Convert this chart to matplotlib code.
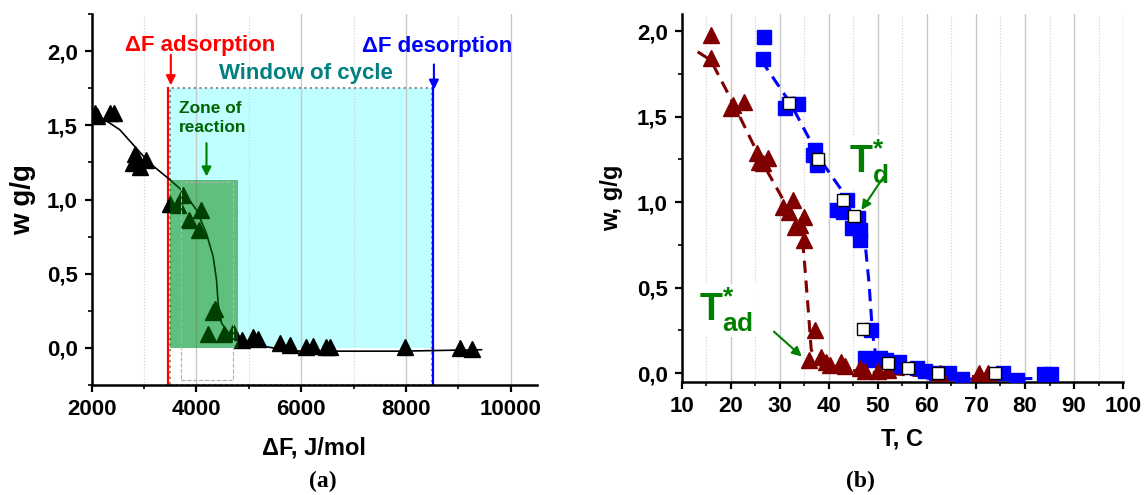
"""Two-panel figure: adsorption window vs. free energy (a) and sorption isobars (b)."""

import matplotlib.pyplot as plt
from matplotlib.patches import Rectangle
from matplotlib.ticker import MultipleLocator

plt.rcParams.update({
    "font.family": ["Liberation Sans", "DejaVu Sans"],
    "font.weight": "bold",
    "axes.labelweight": "bold",
    "mathtext.fontset": "custom",
    "mathtext.rm": "Liberation Sans:bold",
    "mathtext.bf": "Liberation Sans:bold",
    "mathtext.it": "Liberation Sans:bold",
    "axes.linewidth": 1.8,
})

# ---- panel (a): uptake vs. free energy ----
dF_pts = [2070, 2110, 2354, 2422, 2797, 2831, 2865, 2933, 3035,
          3498, 3648, 3750, 3852, 4056, 4090, 4315, 4363,
          4227, 4533, 4703, 4873, 5078, 5180, 5588, 5793,
          6099, 6222, 6473, 6541, 7972, 9027, 9265]
w_pts = [1.58, 1.56, 1.584, 1.58, 1.243, 1.31, 1.276, 1.22, 1.265,
         0.969, 0.962, 1.029, 0.861, 0.793, 0.928, 0.243, 0.265,
         0.097, 0.097, 0.108, 0.052, 0.074, 0.063, 0.034, 0.018,
         0.007, 0.011, 0.007, 0.007, 0.007, 0.0, -0.004]

dF_fit = [2220, 2540, 2970, 3110, 3460, 3750, 4000, 4190, 4320, 4385,
          4415, 4480, 4640, 4890, 5470, 5980, 7880, 9440]
w_fit = [1.545, 1.47, 1.30, 1.245, 1.144, 1.054, 0.931, 0.774, 0.616, 0.459,
         0.302, 0.168, 0.089, 0.033, 0.0, -0.022, -0.022, -0.012]

dF_ads, dF_des = 3500, 8500
window_top = 1.75
zone_right, zone_top = 4800, 1.13

dF_ticks = [2000, 4000, 6000, 8000, 10000]
w_ticks = [0.0, 0.5, 1.0, 1.5, 2.0]
w_ticklabels = ["0,0", "0,5", "1,0", "1,5", "2,0"]

# ---- panel (b): uptake vs. temperature ----
T_des = [26.77, 26.54, 31.10, 31.86, 33.75, 36.79, 37.55, 37.17, 41.72, 43.62,
         42.86, 45.90, 44.76, 46.28, 46.28, 48.55, 47.41, 48.93, 50.45, 51.59,
         54.24, 53.48, 58.04, 59.56, 61.83, 64.49, 67.2, 75.5, 78.4, 83.8, 85.4]
w_des = [1.963, 1.834, 1.548, 1.574, 1.574, 1.276, 1.217, 1.305, 0.954, 1.013,
         0.945, 0.906, 0.847, 0.837, 0.779, 0.253, 0.088, 0.078, 0.088, 0.078,
         0.068, 0.039, 0.029, 0.010, 0.0, 0.0, -0.035, 0.0, -0.04, -0.005, -0.005]

T_open = [31.86, 37.78, 42.86, 45.14, 47.03, 51.97, 56.14, 62.21, 73.97]
w_open = [1.577, 1.250, 1.013, 0.919, 0.257, 0.058, 0.029, 0.0, 0.0]

T_des_fit = [26.2, 32.2, 38.3, 45.9, 47.4, 48.2, 48.9, 49.7, 53.5, 60.3, 70.0, 86.0]
w_des_fit = [1.83, 1.577, 1.246, 0.935, 0.76, 0.526, 0.234, 0.078, 0.02, -0.03, -0.035, -0.03]

T_ads = [15.92, 15.92, 20.09, 20.47, 22.75, 25.41, 25.79, 27.68, 26.54, 30.72,
         32.62, 31.86, 33.00, 34.89, 34.89, 34.13, 37.17, 36.03, 38.31, 39.45,
         40.21, 42.48, 43.24, 46.28, 47.41, 50.07, 51.97, 62.59, 70.56, 72.46]
w_ads = [1.977, 1.840, 1.548, 1.568, 1.587, 1.285, 1.237, 1.256, 1.227, 0.974,
         1.013, 0.945, 0.857, 0.915, 0.779, 0.867, 0.253, 0.078, 0.097, 0.068,
         0.049, 0.068, 0.039, 0.029, 0.010, 0.010, 0.019, 0.0, 0.0, 0.0]

T_ads_fit = [13.26, 15.92, 20.85, 26.16, 30.72, 34.51, 34.89, 35.65, 36.41,
             38.31, 45.90, 61.07, 73.97]
w_ads_fit = [1.879, 1.83, 1.558, 1.246, 1.013, 0.798, 0.701, 0.428, 0.136,
             0.058, 0.01, -0.02, -0.02]

T_ticks = [10, 20, 30, 40, 50, 60, 70, 80, 90, 100]

GREEN = "#008000"


def style_axes(ax):
    for side in ("top", "right"):
        ax.spines[side].set_visible(False)
    ax.tick_params(which="major", direction="out", length=5, width=1.6, labelsize=16, pad=5)
    ax.tick_params(which="minor", direction="out", length=3, width=1.2)
    ax.set_yticks(w_ticks, w_ticklabels)
    ax.yaxis.set_minor_locator(MultipleLocator(0.25))
    ax.grid(axis="x", which="major", color="#c8c8c8", lw=1.0)
    ax.grid(axis="x", which="minor", color="#d0d0d0", lw=0.8, ls=":")


fig = plt.figure(figsize=(11.44, 4.95), dpi=100)

# ---------------- (a) ----------------
ax = fig.add_axes([0.080, 0.2222, 0.3894, 0.7495])
style_axes(ax)
ax.set_xlim(2000, 10500)
ax.set_ylim(-0.25, 2.25)
ax.set_xticks(dF_ticks, [str(t) for t in dF_ticks])
ax.xaxis.set_minor_locator(MultipleLocator(1000))

ax.add_patch(Rectangle((dF_ads, 0), dF_des - dF_ads, window_top,
                       facecolor="#bfffff", edgecolor="none", zorder=1))
ax.add_patch(Rectangle((dF_ads, -0.25), dF_des - dF_ads, window_top + 0.25,
                       facecolor="none", edgecolor="#8a8a8a", lw=1.5, ls=":", zorder=1.6))
ax.plot([dF_ads - 40, dF_ads - 40], [-0.25, window_top], color="red", lw=1.6, zorder=2)
ax.plot([dF_des + 10, dF_des + 10], [-0.25, window_top], color="blue", lw=1.6, zorder=2)

ax.plot(dF_fit, w_fit, color="black", lw=1.2, zorder=2.5)
ax.plot(dF_pts, w_pts, ls="none", marker="^", ms=11, color="black", zorder=3)

ax.add_patch(Rectangle((dF_ads, 0), zone_right - dF_ads, zone_top,
                       facecolor=GREEN, alpha=0.5, edgecolor="none", zorder=4))
ax.add_patch(Rectangle((3700, -0.215), 1000, 1.335,
                       facecolor="none", edgecolor="#b0b0b0", lw=0.8, ls="--", zorder=4))

ax.text(4067, 2.04, "ΔF adsorption", color="red", fontsize=16, ha="center", va="center")
ax.text(8600, 2.03, "ΔF desorption", color="blue", fontsize=16, ha="center", va="center")
ax.text(6100, 1.846, "Window of cycle", color="#008080", fontsize=16, ha="center", va="center")
ax.text(3670, 1.55, "Zone of\nreaction", color="#006400", fontsize=12.5, ha="left",
        va="center", linespacing=1.35)
arrow = dict(arrowstyle="-|>", lw=1.5, mutation_scale=14, shrinkA=0, shrinkB=0)
ax.annotate("", xy=(3513, 1.77), xytext=(3513, 1.975), arrowprops=dict(arrow, color="red"), zorder=5)
ax.annotate("", xy=(8533, 1.74), xytext=(8533, 1.91), arrowprops=dict(arrow, color="blue"), zorder=5)
ax.annotate("", xy=(4194, 1.155), xytext=(4194, 1.38), arrowprops=dict(arrow, color=GREEN), zorder=5)

ax.set_xlabel("ΔF, J/mol", fontsize=17, labelpad=12)
ax.set_ylabel("w g/g", fontsize=20, labelpad=8)
fig.text(0.282, 0.027, "(a)", family="Liberation Serif", fontsize=17, ha="center", va="center")

# ---------------- (b) ----------------
ax = fig.add_axes([0.5959, 0.2289, 0.3858, 0.7428])
style_axes(ax)
ax.set_xlim(10, 100)
ax.set_ylim(-0.05, 2.1)
ax.set_xticks(T_ticks, [str(t) for t in T_ticks])
ax.xaxis.set_minor_locator(MultipleLocator(5))

ax.plot(T_des_fit, w_des_fit, color="blue", lw=2.2, ls=(0, (4, 2.5)), zorder=2)
ax.plot(T_des, w_des, ls="none", marker="s", ms=9.5, color="blue", zorder=3)
ax.plot(T_open, w_open, ls="none", marker="s", ms=8, mfc="white", mec="black", mew=1, zorder=3.5)
ax.plot(T_ads_fit, w_ads_fit, color="#800000", lw=2.2, ls=(0, (4, 2.5)), zorder=2.2)
ax.plot(T_ads, w_ads, ls="none", marker="^", ms=11, color="#800000", zorder=3.2)

box = dict(facecolor="white", edgecolor="none", pad=2)
ax.text(44.2, 1.17, r"$\mathbf{T}^{\mathbf{*}}_{\mathbf{d}}$", color=GREEN, fontsize=27,
        ha="left", va="baseline", bbox=box, zorder=4)
ax.text(13.6, 0.30, r"$\mathbf{T}^{\mathbf{*}}_{\mathbf{ad}}$", color=GREEN, fontsize=27,
        ha="left", va="baseline", bbox=box, zorder=4)
ax.annotate("", xy=(46.65, 0.954), xytext=(51.2, 1.149), arrowprops=dict(arrow, color=GREEN), zorder=5)
ax.annotate("", xy=(34.5, 0.097), xytext=(28.8, 0.243), arrowprops=dict(arrow, color=GREEN), zorder=5)

ax.set_xlabel("T, C", fontsize=17, labelpad=8)
ax.set_ylabel("w, g/g", fontsize=17, labelpad=10)
fig.text(0.752, 0.027, "(b)", family="Liberation Serif", fontsize=17, ha="center", va="center")

fig.savefig("out.png", dpi=100)
